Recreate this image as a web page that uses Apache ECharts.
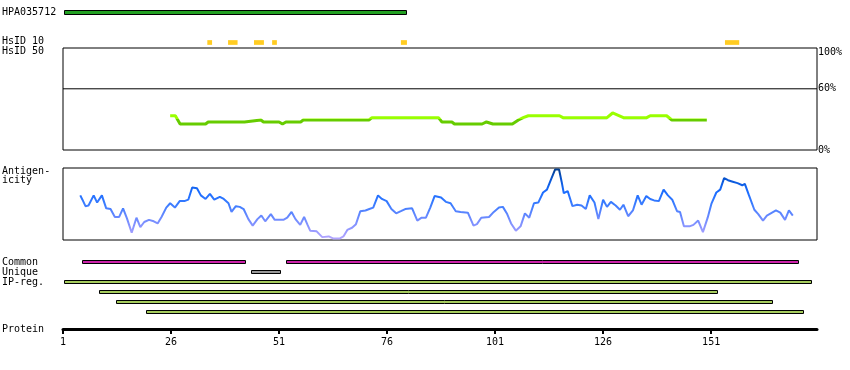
<!DOCTYPE html>
<html>
<head>
<meta charset="utf-8">
<script src="https://cdn.jsdelivr.net/npm/echarts@6/dist/echarts.min.js"></script>
<style>html,body{margin:0;padding:0;background:#fff}#chart{width:850px;height:370px}</style>
</head>
<body>
<div id="chart"></div>
<script>
// ---------------- data ----------------
const antibodyName = 'HPA035712';
const antigenStart = [1.3];
const antigenEnd = [80.6];

const hsid10Start = [34.4, 39.2, 45.2, 49.4, 79.2, 154.2];
const hsid10End   = [35.5, 41.4, 47.5, 50.5, 80.6, 157.5];

const identityPos = [25.8, 27, 28.1, 34, 34.6, 43, 43.4, 46.8, 47.4, 51, 51.8, 52.6, 56, 56.6, 71.8, 72.5, 87.9, 88.7, 91, 91.6, 98, 99, 100.5, 105, 106.4, 107.5, 108.7, 115.9, 116.7, 126.9, 128.2, 130.7, 136.1, 136.9, 140.7, 141.9, 150];
const identityVal = [33.6, 33.6, 25.5, 25.5, 27.5, 27.5, 29.4, 29.4, 27.5, 27.5, 25.5, 27.5, 27.5, 29.4, 29.4, 31.7, 31.7, 27.5, 27.5, 25.5, 25.5, 27.5, 25.5, 25.5, 29.4, 31.7, 33.6, 33.6, 31.7, 31.7, 36.3, 31.7, 31.7, 33.6, 33.6, 29.4, 29.4];
const identityTicks = [0, 60, 100];
const identityRefLine = 60;
const identityColorThreshold = 30;

const antigenicityPos = [5, 5.5, 6.2, 6.9, 8.1, 8.9, 10, 11, 12, 13, 14, 14.9, 15.8, 16.9, 18, 18.9, 19.8, 20.9, 22, 22.9, 23.8, 24.9, 25.8, 26.9, 28, 29.1, 30, 30.9, 32, 32.9, 34, 35, 36, 37.3, 38.2, 39.3, 40, 41, 41.9, 42.8, 43.9, 44.9,
  46, 46.9, 47.8, 49.1, 50, 52, 52.9, 53.9, 54.8, 55.9, 56.8, 57.6, 58.2, 59.7, 61, 62.5, 63.6, 65, 65.9, 66.8, 67.9, 68.8, 69.8, 71, 71.9, 72.8, 73.9, 74.8, 75.9, 77, 78.1, 79.2, 80.2, 81.8, 83, 84, 85, 86, 87,
  88.5, 89.6, 90.7, 91.9, 93, 94.7, 96, 96.8, 97.8, 99.6, 100.7, 101.9, 102.8, 103.8, 104.7, 105.8, 106.9, 107.9, 108.9, 110, 111, 112.1, 113, 114, 114.9, 115.8, 116.4, 116.9, 117.8, 118.9, 120, 121, 122, 122.9, 124, 124.9, 126, 126.9, 127.8, 128.9, 129.9, 130.7, 131.8,
  132.9, 134, 134.9, 136, 136.9, 137.8, 138.9, 140, 141, 142, 143.1, 143.8, 144.7, 146, 146.9, 148, 149.1, 150.2, 151.1, 152.2, 153.1, 154, 154.9, 156, 157.1, 158.2, 158.8, 159.7, 161, 161.9, 163, 163.9, 164.8, 166, 167, 168.1, 169, 169.9];
const antigenicityVal = [62, 56, 47, 48, 62, 52, 62, 44, 43, 32, 32, 44, 30, 10, 31, 18, 25, 28, 26, 23, 32, 45, 51, 45, 54, 54, 56, 73, 72, 62, 57, 64, 56, 60, 57, 51, 39, 47, 46, 43, 29, 20,
  29, 34, 26, 36, 28, 28, 31, 39, 29, 21, 32, 21, 13, 12, 4, 5, 2, 2, 5, 14, 17, 22, 40, 41, 43, 45, 62, 57, 54, 43, 37, 40, 43, 44, 27, 31, 31, 45, 61,
  59, 53, 51, 40, 39, 38, 20, 22, 31, 32, 39, 45, 46, 36, 23, 13, 19, 37, 31, 51, 52, 66, 70, 85, 98, 98, 81, 65, 68, 47, 49, 48, 43, 62, 52, 29, 56, 46, 53, 48, 42, 49, 33,
  41, 62, 49, 61, 57, 55, 54, 70, 62, 56, 40, 39, 19, 19, 21, 27, 11, 31, 51, 66, 70, 86, 83, 81, 79, 76, 78, 63, 42, 36, 27, 34, 37, 41, 38, 28, 41, 34];

const commonStart = [5.5, 52.5];
const commonEnd   = [43.4, 171.4];
const uniqueStart = [44.4];
const uniqueEnd   = [51.4];
const ipregStart  = [1.3, 9.4, 13.3, 20.3];
const ipregEnd    = [174.4, 152.5, 165.4, 172.4];

const proteinMin = 1;
const proteinMax = 175.5;
const proteinTickStep = 25;
const proteinTickLabels = [1, 26, 51, 76, 101, 126, 151];

const trackRows = ['Common', 'Unique', 'IP-reg. 1', 'IP-reg. 2', 'IP-reg. 3', 'IP-reg. 4'];
const leftLabels = ['HPA035712', 'HsID 10', 'HsID 50', 'Antigen-', 'icity', 'Common', 'Unique', 'IP-reg.', 'Protein'];

// ---------------- build ----------------
const FONT = '"DejaVu Sans Mono", monospace';
const zip = (a, b) => a.map((v, i) => [v, b[i]]);
const ranges = (s, e, row) => s.map((v, i) => [v, e[i], typeof row === 'function' ? row(i) : row]);

function barRender(fill, stroke, h) {
  return function (params, api) {
    const a = api.coord([api.value(0), api.value(2)]);
    const b = api.coord([api.value(1), api.value(2)]);
    const x0 = stroke ? Math.round(a[0]) + 0.5 : a[0];
    const x1 = stroke ? Math.round(b[0]) - 0.5 : b[0];
    return {
      type: 'rect',
      shape: { x: x0, y: a[1] - h / 2, width: x1 - x0, height: h },
      style: { fill: fill, stroke: stroke || null, lineWidth: stroke ? 1 : 0 }
    };
  };
}

const L = 63, R = 33;
const grids = [
  { left: L, right: R, top: 10, height: 5 },      // 0 antibody
  { left: L, right: R, top: 40, height: 5 },      // 1 HsID 10
  { left: L, right: R, top: 48, height: 102, show: true, borderColor: '#000', borderWidth: 1, backgroundColor: 'transparent' }, // 2 HsID 50
  { left: L, right: R, top: 168, height: 72, show: true, borderColor: '#000', borderWidth: 1, backgroundColor: 'transparent' }, // 3 antigenicity
  { left: L, right: R, top: 257, height: 60 },    // 4 tracks
  { left: L, right: R, top: 300, height: 29 }     // 5 protein axis
];

const xAxes = grids.map((g, i) => ({
  type: 'value', gridIndex: i, min: proteinMin, max: proteinMax,
  show: i === 5,
  interval: proteinTickStep,
  splitLine: { show: false },
  axisLine: { show: i === 5, onZero: false, lineStyle: { color: '#000', width: 3 } },
  axisTick: { show: i === 5, length: 5, lineStyle: { color: '#000', width: 2 } },
  axisLabel: {
    show: i === 5, color: '#000', fontFamily: FONT, fontSize: 10, margin: 8,
    showMaxLabel: false,
    formatter: v => proteinTickLabels.indexOf(Math.round(v * 10) / 10) >= 0 ? String(v) : ''
  }
}));

const yAxes = [
  { type: 'category', gridIndex: 0, data: [antibodyName], show: false },
  { type: 'category', gridIndex: 1, data: ['HsID 10'], show: false },
  {
    type: 'value', gridIndex: 2, min: 0, max: 100, interval: 20, position: 'right',
    axisLine: { show: false }, axisTick: { show: false }, splitLine: { show: false },
    axisLabel: {
      show: true, margin: 1, color: '#000', fontFamily: FONT, fontSize: 10,
      formatter: v => identityTicks.indexOf(v) < 0 ? '' : (v === 100 ? '{top|' + v + '%}' : v + '%'),
      rich: { top: { fontFamily: FONT, fontSize: 10, color: '#000', padding: [9, 0, 0, 0] } }
    }
  },
  { type: 'value', gridIndex: 3, min: 0, max: 100, show: false },
  { type: 'category', gridIndex: 4, data: trackRows, inverse: true, show: false },
  { type: 'value', gridIndex: 5, min: 0, max: 1, show: false }
];

const series = [
  { type: 'custom', xAxisIndex: 0, yAxisIndex: 0, renderItem: barRender('#22a022', '#000', 4),
    encode: { x: [0, 1], y: 2 }, data: ranges(antigenStart, antigenEnd, 0) },
  { type: 'custom', xAxisIndex: 1, yAxisIndex: 1, renderItem: barRender('#ffcc22', null, 4.7),
    encode: { x: [0, 1], y: 2 }, data: ranges(hsid10Start, hsid10End, 0) },
  { id: 'identity', type: 'line', xAxisIndex: 2, yAxisIndex: 2, data: zip(identityPos, identityVal), symbol: 'none',
    lineStyle: { width: 3, color: '#66cc00' }, z: 3 },
  { id: 'antigenicity', type: 'line', xAxisIndex: 3, yAxisIndex: 3, data: zip(antigenicityPos, antigenicityVal), symbol: 'none',
    lineStyle: { width: 2, color: '#3a7cff' }, z: 3 },
  { type: 'custom', xAxisIndex: 4, yAxisIndex: 4, renderItem: barRender('#cc22aa', '#000', 3),
    encode: { x: [0, 1], y: 2 }, data: ranges(commonStart, commonEnd, 0) },
  { type: 'custom', xAxisIndex: 4, yAxisIndex: 4, renderItem: barRender('#999999', '#000', 3),
    encode: { x: [0, 1], y: 2 }, data: ranges(uniqueStart, uniqueEnd, 1) },
  { type: 'custom', xAxisIndex: 4, yAxisIndex: 4, renderItem: barRender('#a6cc5e', '#000', 3),
    encode: { x: [0, 1], y: 2 }, data: ranges(ipregStart, ipregEnd, i => 2 + i) },
  { type: 'line', xAxisIndex: 2, yAxisIndex: 2, symbol: 'none', silent: true, z: 2,
    lineStyle: { color: '#000', width: 1 }, itemStyle: { color: '#000' },
    data: [[proteinMin, identityRefLine], [proteinMax, identityRefLine]] }
];

const labelY = [13, 42.3, 52.3, 172, 181.5, 263, 273, 283, 330];
const graphic = leftLabels.map((t, i) => ({
  type: 'text', left: 2, top: labelY[i] - 6, silent: true,
  style: { text: t, fill: '#000', font: '10px ' + FONT, verticalAlign: 'top' }
}));

const chart = echarts.init(document.getElementById('chart'), null, { renderer: 'canvas' });
chart.setOption({
  animation: false,
  backgroundColor: '#fff',
  grid: grids,
  xAxis: xAxes,
  yAxis: yAxes,
  graphic: graphic,
  series: series
});

// colour by value: vertical gradients placed through the library's own y scales
function valueGradient(gridIndex, stops) {
  const y0 = chart.convertToPixel({ gridIndex: gridIndex }, [proteinMin, 0])[1];
  const y1 = chart.convertToPixel({ gridIndex: gridIndex }, [proteinMin, 100])[1];
  return new echarts.graphic.LinearGradient(0, y0, 0, y1,
    stops.map(s => ({ offset: s[0] / 100, color: s[1] })), true);
}
const t = identityColorThreshold;
chart.setOption({
  series: [
    { id: 'identity', lineStyle: { color: valueGradient(2, [[0, '#66cc00'], [t, '#66cc00'], [t, '#99ff00'], [100, '#99ff00']]) } },
    { id: 'antigenicity', lineStyle: { color: valueGradient(3, [
      [0, '#b8a8ff'], [17, '#8e96ff'], [33, '#6688ff'], [50, '#3a7cff'], [67, '#1a6cff'], [83, '#0a58d8'], [100, '#003a85']]) } }
  ]
});
</script>
</body>
</html>
